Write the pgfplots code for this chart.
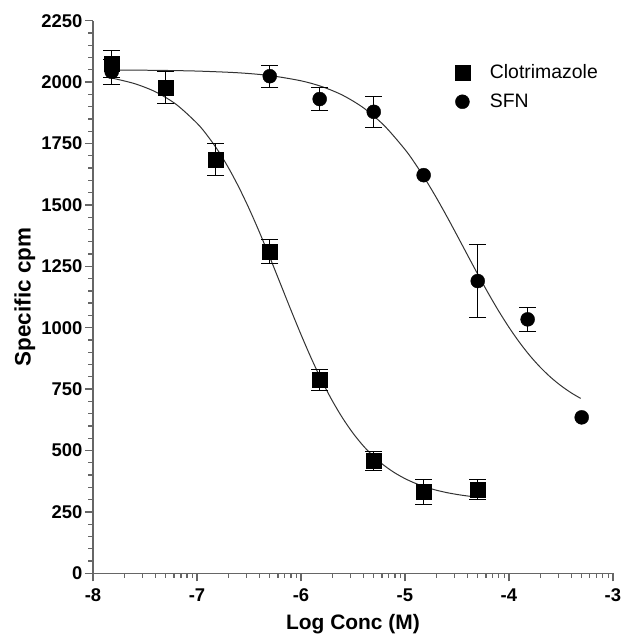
\documentclass[border=0pt]{standalone}
\usepackage{fontspec}
\setmainfont{Liberation Sans}
\usepackage{pgfplots}
\pgfplotsset{compat=1.18}

% fitted curves
\pgfplotstableread{
x y
-7.82 2016.5
-7.6 1993.7
-7.4 1960.5
-7.2 1909.3
-7.0 1832.6
-6.9 1782.2
-6.8 1722.7
-6.7 1653.3
-6.6 1574.2
-6.5 1485.9
-6.4 1389.6
-6.3 1287.2
-6.2 1181.7
-6.1 1075.7
-6.0 972.6
-5.9 874.8
-5.8 784.7
-5.7 703.7
-5.6 632.4
-5.5 570.9
-5.4 518.7
-5.3 475.1
-5.2 439.1
-5.1 409.6
-5.0 385.7
-4.9 366.4
-4.8 351.0
-4.7 338.6
-4.6 328.8
-4.5 321.1
-4.4 314.9
-4.3 310.0
}\clotfit

\pgfplotstableread{
x y
-7.82 2049.2
-7.4 2047.9
-7.0 2044.9
-6.6 2037.8
-6.3 2026.6
-6.0 2005.3
-5.8 1981.8
-5.6 1946.7
-5.4 1895.5
-5.2 1823.3
-5.0 1725.9
-4.9 1667.0
-4.8 1601.9
-4.7 1530.9
-4.6 1455.4
-4.5 1376.9
-4.4 1297.1
-4.3 1218.0
-4.2 1141.4
-4.1 1068.9
-4.0 1001.9
-3.9 941.1
-3.8 886.9
-3.7 839.6
-3.6 798.7
-3.5 763.9
-3.4 734.5
-3.31 712.1
}\sfnfit

% means with SEM
\pgfplotstableread{
x y e
-7.82 2075 55
-7.30 1978 67
-6.82 1685 65
-6.30 1310 50
-5.82 787 43
-5.30 458 38
-4.82 332 50
-4.30 342 41
}\clot

\pgfplotstableread{
x y e
-7.82 2042 50
-6.30 2024 45
-5.82 1931 45
-5.30 1879 63
-4.30 1190 150
-3.82 1034 48
}\sfn

% SFN points drawn without error bars
\pgfplotstableread{
x y
-4.82 1621
-3.30 635
}\sfnnoerr

\begin{document}
\begin{tikzpicture}
\begin{axis}[
    at={(0,0)}, anchor=south west,
    scale only axis, width=520bp, height=552.7bp,
    xmin=-8, xmax=-3, ymin=0, ymax=2250,
    axis lines*=left,
    axis line style={draw=black!60, line width=1.3bp},
    tick align=outside,
    major tick length=8bp, minor tick length=4.5bp,
    every tick/.style={draw=black!60, line width=1.3bp},
    xtick={-8,-7,-6,-5,-4,-3},
    xticklabels={-8,-7,-6,-5,-4,-3},
    minor xtick={-7.69897,-7.52288,-7.39794,-7.30103,-7.22185,-7.15490,-7.09691,-7.04576,
                 -6.69897,-6.52288,-6.39794,-6.30103,-6.22185,-6.15490,-6.09691,-6.04576,
                 -5.69897,-5.52288,-5.39794,-5.30103,-5.22185,-5.15490,-5.09691,-5.04576,
                 -4.69897,-4.52288,-4.39794,-4.30103,-4.22185,-4.15490,-4.09691,-4.04576,
                 -3.69897,-3.52288,-3.39794,-3.30103,-3.22185,-3.15490,-3.09691,-3.04576},
    ytick={0,250,500,750,1000,1250,1500,1750,2000,2250},
    yticklabels={0,250,500,750,1000,1250,1500,1750,2000,2250},
    minor y tick num=4,
    ticklabel style={font=\fontsize{18.5}{20}\selectfont\bfseries},
    xticklabel style={yshift=-4bp},
    yticklabel style={xshift=1bp},
    xlabel={Log Conc (M)},
    ylabel={Specific cpm},
    xlabel style={font=\fontsize{21}{24}\selectfont\bfseries,
                  at={(axis description cs:0.5,-0.0917)}, anchor=center},
    ylabel style={font=\fontsize{22.5}{26}\selectfont\bfseries,
                  at={(axis description cs:-0.131,0.5)}, anchor=center},
    legend style={draw=none, fill=none, font=\fontsize{19.5}{22}\selectfont,
                  at={(axis description cs:0.69,0.928)}, anchor=north west,
                  row sep=10bp, column sep=18bp},
    legend cell align=left,
    clip=false,
]

\addplot[black!80, line width=1bp, smooth, forget plot] table {\clotfit};
\addplot[black!80, line width=1bp, smooth, forget plot] table {\sfnfit};

\addplot[only marks, mark=square*, mark size=7.5bp, black,
    error bars/.cd, y dir=both, y explicit,
    error bar style={line width=1bp, black},
    error mark options={rotate=90, mark size=8.5bp, line width=1bp, black}]
    table[y error=e] {\clot};
\addlegendentry{Clotrimazole}

\addplot[only marks, mark=*, mark size=7bp, black,
    error bars/.cd, y dir=both, y explicit,
    error bar style={line width=1bp, black},
    error mark options={rotate=90, mark size=8.5bp, line width=1bp, black}]
    table[y error=e] {\sfn};
\addlegendentry{SFN}

\addplot[only marks, mark=*, mark size=7bp, black, forget plot] table {\sfnnoerr};
% first square sits on top of the first circle
\addplot[only marks, mark=square*, mark size=7.5bp, black, forget plot]
    table[skip coords between index={1}{8}] {\clot};
\end{axis}
\pgfresetboundingbox
\path[use as bounding box] (-93bp,-64.7bp) rectangle (531bp,573.4bp);
\end{tikzpicture}
\end{document}
